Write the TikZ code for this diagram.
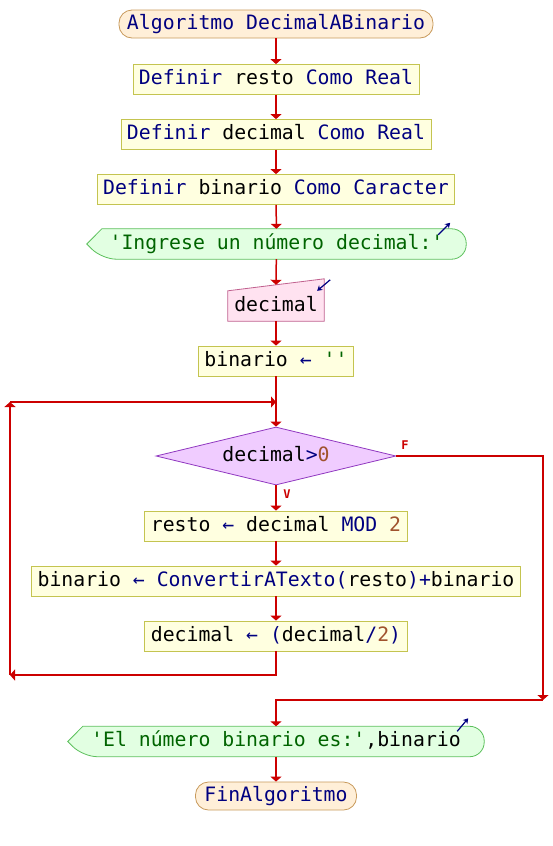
\documentclass[tikz,border=0pt]{standalone}
\usepackage{fontspec}
\setmonofont{DejaVu Sans Mono}
\usepackage{xcolor}
\usepackage{tikz}
\usetikzlibrary{arrows.meta,shapes.geometric,backgrounds}
\definecolor{flow}{HTML}{CC0000}
\definecolor{kwblue}{HTML}{000080}
\definecolor{strgreen}{HTML}{006400}
\definecolor{numbrown}{HTML}{A0522D}
\definecolor{termfill}{HTML}{FFEFD8}
\definecolor{termline}{HTML}{C89A5C}
\definecolor{procfill}{HTML}{FFFFE0}
\definecolor{procline}{HTML}{C4C450}
\definecolor{outfill}{HTML}{E2FFE2}
\definecolor{outline}{HTML}{5CC05C}
\definecolor{infill}{HTML}{FFE2F0}
\definecolor{inline}{HTML}{C0608E}
\definecolor{decfill}{HTML}{F0CCFF}
\definecolor{decline}{HTML}{9038C0}
\newcommand{\tkw}[1]{\textcolor{kwblue}{#1}}
\newcommand{\tstr}[1]{\textcolor{strgreen}{#1}}
\newcommand{\tnum}[1]{\textcolor{numbrown}{#1}}

\begin{document}
\begin{tikzpicture}[
  x=1pt, y=-1pt,
  every node/.style={font=\ttfamily\fontsize{19.8}{24}\selectfont, text height=14pt, text depth=4pt},
  term/.style={draw=termline, fill=termfill, rounded corners=13pt, minimum height=28pt, inner xsep=8pt, line width=0.8pt},
  proc/.style={draw=procline, fill=procfill, minimum height=30pt, inner xsep=6pt, line width=0.8pt},
  iobox/.style={minimum height=30pt, inner sep=0pt},
  decis/.style={diamond, aspect=4.14, draw=decline, fill=decfill, minimum width=240pt, minimum height=58pt, inner sep=0pt, line width=0.8pt},
  arrow/.style={-{Triangle[length=5pt,width=11pt]}, flow, line width=1.5pt},
  tick/.style={-{Stealth[length=5pt,width=6pt]}, kwblue, line width=1.2pt},
  branch/.style={font=\ttfamily\bfseries\fontsize{12}{14}\selectfont, text=flow, text height=9pt, text depth=0pt, inner sep=0pt},
]
  \useasboundingbox (0,0) rectangle (552,846);

  % Header and declarations
  \node[term] (start) at (276,24) {\tkw{Algoritmo DecimalABinario}};
  \node[proc] (defr) at (276,79.5) {\tkw{Definir} resto \tkw{Como Real}};
  \node[proc] (defd) at (276,134.5) {\tkw{Definir} decimal \tkw{Como Real}};
  \node[proc] (defb) at (276,189.5) {\tkw{Definir} binario \tkw{Como Caracter}};

  % Prompt and read
  \node[iobox, minimum width=379pt] (ask) at (276.5,244) {\tstr{'Ingrese un número decimal:'}};
  \node[iobox, minimum width=96pt] (readdec) at (276,306) {decimal};
  \coordinate (readtop) at ([yshift=6pt]readdec.north);
  \node[proc] (init) at (276,361) {binario \tkw{←} \tstr{''}};

  % Loop
  \coordinate (loopin) at (276,402);
  \node[decis] (cond) at (276,456) {decimal\tkw{>}\tnum{0}};
  \node[proc] (mod) at (276,526) {resto \tkw{←} decimal \tkw{MOD} \tnum{2}};
  \node[proc] (conv) at (276,581) {binario \tkw{←} \tkw{ConvertirATexto(}resto\tkw{)+}binario};
  \node[proc] (half) at (276,636) {decimal \tkw{←} \tkw{(}decimal\tkw{/}\tnum{2}\tkw{)}};
  \coordinate (loopbl) at (10,675);
  \coordinate (looptl) at (10,402);
  \coordinate (exitr) at (543,700);

  % Result and end
  \node[iobox, minimum width=416pt] (show) at (276,741.5) {\tstr{'El número binario es:'},binario};
  \node[term, inner xsep=9pt] (fin) at (276,796) {\tkw{FinAlgoritmo}};

  % Input/output shapes
  \begin{scope}[on background layer]
    \draw[outline, fill=outfill, line width=0.8pt] (ask.west) -- ([xshift=15pt]ask.north west) [rounded corners=14.5pt] -- (ask.north east) -- (ask.south east) -- ([xshift=15pt]ask.south west) [sharp corners] -- cycle;
    \draw[outline, fill=outfill, line width=0.8pt] (show.west) -- ([xshift=15pt]show.north west) [rounded corners=14.5pt] -- (show.north east) -- (show.south east) -- ([xshift=15pt]show.south west) [sharp corners] -- cycle;
    \draw[inline, fill=infill, line width=0.8pt] (readdec.south west) -- (readdec.north west) -- ([yshift=12pt]readdec.north east) -- (readdec.south east) -- cycle;
  \end{scope}
  \draw[tick] ([xshift=-28pt,yshift=-6pt]ask.north east) -- ([xshift=-16pt,yshift=6pt]ask.north east);
  \draw[tick] ([xshift=-27pt,yshift=-5pt]show.north east) -- ([xshift=-16pt,yshift=8pt]show.north east);
  \draw[tick] ([xshift=6pt,yshift=11pt]readdec.north east) -- ([xshift=-7pt]readdec.north east);

  % Arrows
  \draw[arrow] (start) -- (defr);
  \draw[arrow] (defr) -- (defd);
  \draw[arrow] (defd) -- (defb);
  \draw[arrow] (defb) -- (ask);
  \draw[arrow] (ask) -- (readtop);
  \draw[arrow] (readdec) -- (init);
  \draw[arrow] (init) -- (cond);
  \draw[arrow] (cond) -- (mod);
  \draw[arrow] (mod) -- (conv);
  \draw[arrow] (conv) -- (half);
  \draw[arrow] (half) |- (loopbl);
  \draw[arrow] (loopbl) -- (looptl);
  \draw[arrow] (looptl) -- (loopin);
  \draw[arrow] (cond.east) -| (exitr);
  \draw[arrow] (exitr) -| (show);
  \draw[arrow] (show) -- (fin);

  % Branch labels
  \node[branch] (flab) at (405,445) {F};
  \node[branch] (vlab) at (287,494) {V};
\end{tikzpicture}
\end{document}
